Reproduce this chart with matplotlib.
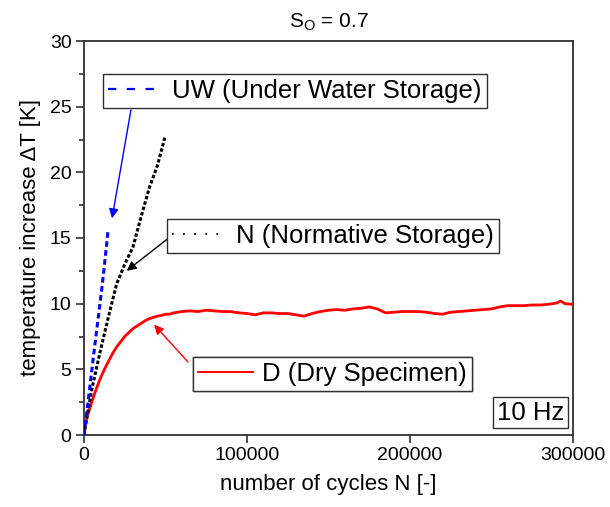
import matplotlib
matplotlib.use("Agg")
import matplotlib.pyplot as plt
from matplotlib.lines import Line2D

plt.rcParams['font.family'] = ['Liberation Sans', 'DejaVu Sans']
plt.rcParams['mathtext.fontset'] = 'custom'
plt.rcParams['mathtext.rm'] = 'Liberation Sans'
plt.rcParams['lines.scale_dashes'] = False

# ---- data ----
cycles_UW = [0, 2000, 4000, 6000, 8000, 10000, 12000, 14700]
temp_UW = [0.0, 2.0, 4.1, 6.2, 8.2, 10.2, 12.3, 15.5]

cycles_N = [0, 2000, 5000, 10000, 15000, 20000, 25000, 30000, 35000, 40000, 45000, 49700]
temp_N = [0.0, 1.5, 3.6, 6.4, 9.0, 11.5, 13.0, 14.3, 16.6, 18.8, 20.5, 22.7]

cycles_D = [0, 2500, 5000, 7500, 10000, 12500, 15000, 17500, 20000, 22500, 25000,
            27500, 30000, 32500, 35000, 37500, 40000, 42500, 45000, 47500, 50000,
            52500, 55000, 57500, 60000, 65000, 70000, 75000, 80000, 85000, 90000,
            95000, 100000, 105000, 110000, 115000, 120000, 125000, 130000, 135000,
            140000, 145000, 150000, 155000, 160000, 165000, 170000, 175000, 180000,
            185000, 190000, 195000, 200000, 205000, 210000, 215000, 220000, 225000,
            230000, 235000, 240000, 245000, 250000, 255000, 260000, 265000, 270000,
            275000, 280000, 285000, 290000, 292500, 295000, 300000]
temp_D = [0.5, 1.6, 2.6, 3.5, 4.3, 5.0, 5.6, 6.2, 6.7, 7.1, 7.5,
          7.8, 8.1, 8.3, 8.5, 8.7, 8.85, 8.95, 9.05, 9.1, 9.2,
          9.2, 9.3, 9.35, 9.4, 9.45, 9.4, 9.5, 9.45, 9.4, 9.4,
          9.3, 9.25, 9.15, 9.3, 9.3, 9.25, 9.25, 9.15, 9.05,
          9.25, 9.4, 9.5, 9.55, 9.5, 9.6, 9.65, 9.75, 9.6,
          9.3, 9.35, 9.4, 9.4, 9.4, 9.35, 9.25, 9.2, 9.35,
          9.4, 9.45, 9.5, 9.55, 9.6, 9.75, 9.85, 9.85, 9.85,
          9.9, 9.9, 9.95, 10.05, 10.2, 10.0, 9.95]

label_UW = "UW (Under Water Storage)"
label_N = "N (Normative Storage)"
label_D = "D (Dry Specimen)"
freq_label = "10 Hz"
title = r"S$_\mathregular{O}$ = 0.7"
xlabel = "number of cycles N [-]"
ylabel = "temperature increase \u0394T [K]"
xticks = [0, 100000, 200000, 300000]
yticks = [0, 5, 10, 15, 20, 25, 30]

# ---- figure ----
fig = plt.figure(figsize=(6.10, 5.07), dpi=100)
ax = fig.add_axes([84/610, 1-435/507, (573-84)/610, (435-41)/507])

ax.plot(cycles_D, temp_D, color='#ff0000', lw=2.0, zorder=3)
ax.plot(cycles_N, temp_N, color='black', lw=2.2, linestyle=(0, (2.5, 1.5)), zorder=4)
ax.plot(cycles_UW, temp_UW, color='#0000ff', lw=2.2, linestyle=(0, (4, 2.5)), zorder=5)

ax.set_xlim(0, 300000)
ax.set_ylim(0, 30)
ax.set_xticks(xticks)
ax.set_xticklabels([str(v) for v in xticks])
ax.set_yticks(yticks)
ax.set_yticks([2.5, 7.5, 12.5, 17.5, 22.5, 27.5], minor=True)

spine_c = '#303030'
for s in ax.spines.values():
    s.set_color(spine_c)
    s.set_linewidth(1.3)
ax.tick_params(axis='both', which='major', direction='out', length=6, width=1.2,
               color=spine_c, labelsize=14, pad=3)
ax.tick_params(axis='y', which='minor', direction='out', length=3.5, width=1.2, color=spine_c)

ax.set_xlabel(xlabel, fontsize=16, labelpad=7)
ax.set_ylabel(ylabel, fontsize=16, labelpad=6)
ax.set_title(title, fontsize=15, pad=10)

# ---- label boxes ----
leg_kw = dict(fontsize=18.5, frameon=True, fancybox=False, borderpad=0.2,
              handletextpad=0.35, borderaxespad=0, loc='upper left',
              handlelength=2.15)

h_UW = Line2D([], [], color='#0000ff', lw=1.6, linestyle=(0, (6, 7.5)))
h_N = Line2D([], [], color='black', lw=1.4, linestyle=(0, (1.2, 6.8)))
h_D = Line2D([], [], color='#ff0000', lw=1.4)

for h, lab, anchor in [(h_UW, label_UW, (0.0389, 0.916)),
                       (h_N, label_N, (0.1697, 0.548)),
                       (h_D, label_D, (0.2229, 0.198))]:
    lg = ax.legend(handles=[h], labels=[lab], bbox_to_anchor=anchor, **leg_kw)
    fr = lg.get_frame()
    fr.set_edgecolor('#303030')
    fr.set_linewidth(1.0)
    fr.set_alpha(None)
    fr.set_facecolor('white')
    ax.add_artist(lg)

ax.text(0.913, 0.057, freq_label, transform=ax.transAxes, fontsize=18.5,
        ha='center', va='center',
        bbox=dict(boxstyle='square,pad=0.15', fc='white', ec='#303030', lw=1.0))

# ---- arrows ----
arr = dict(arrowstyle='-|>', lw=1.0, mutation_scale=14, shrinkA=0, shrinkB=0)
ax.annotate('', xy=(17200, 16.5), xytext=(28800, 24.75),
            arrowprops=dict(color='#0000ff', **arr))
ax.annotate('', xy=(26200, 12.5), xytext=(50900, 14.9),
            arrowprops=dict(color='black', **arr))
ax.annotate('', xy=(43000, 8.4), xytext=(63800, 5.56),
            arrowprops=dict(color='#ff0000', **arr))

fig.savefig('out.png', dpi=100)
